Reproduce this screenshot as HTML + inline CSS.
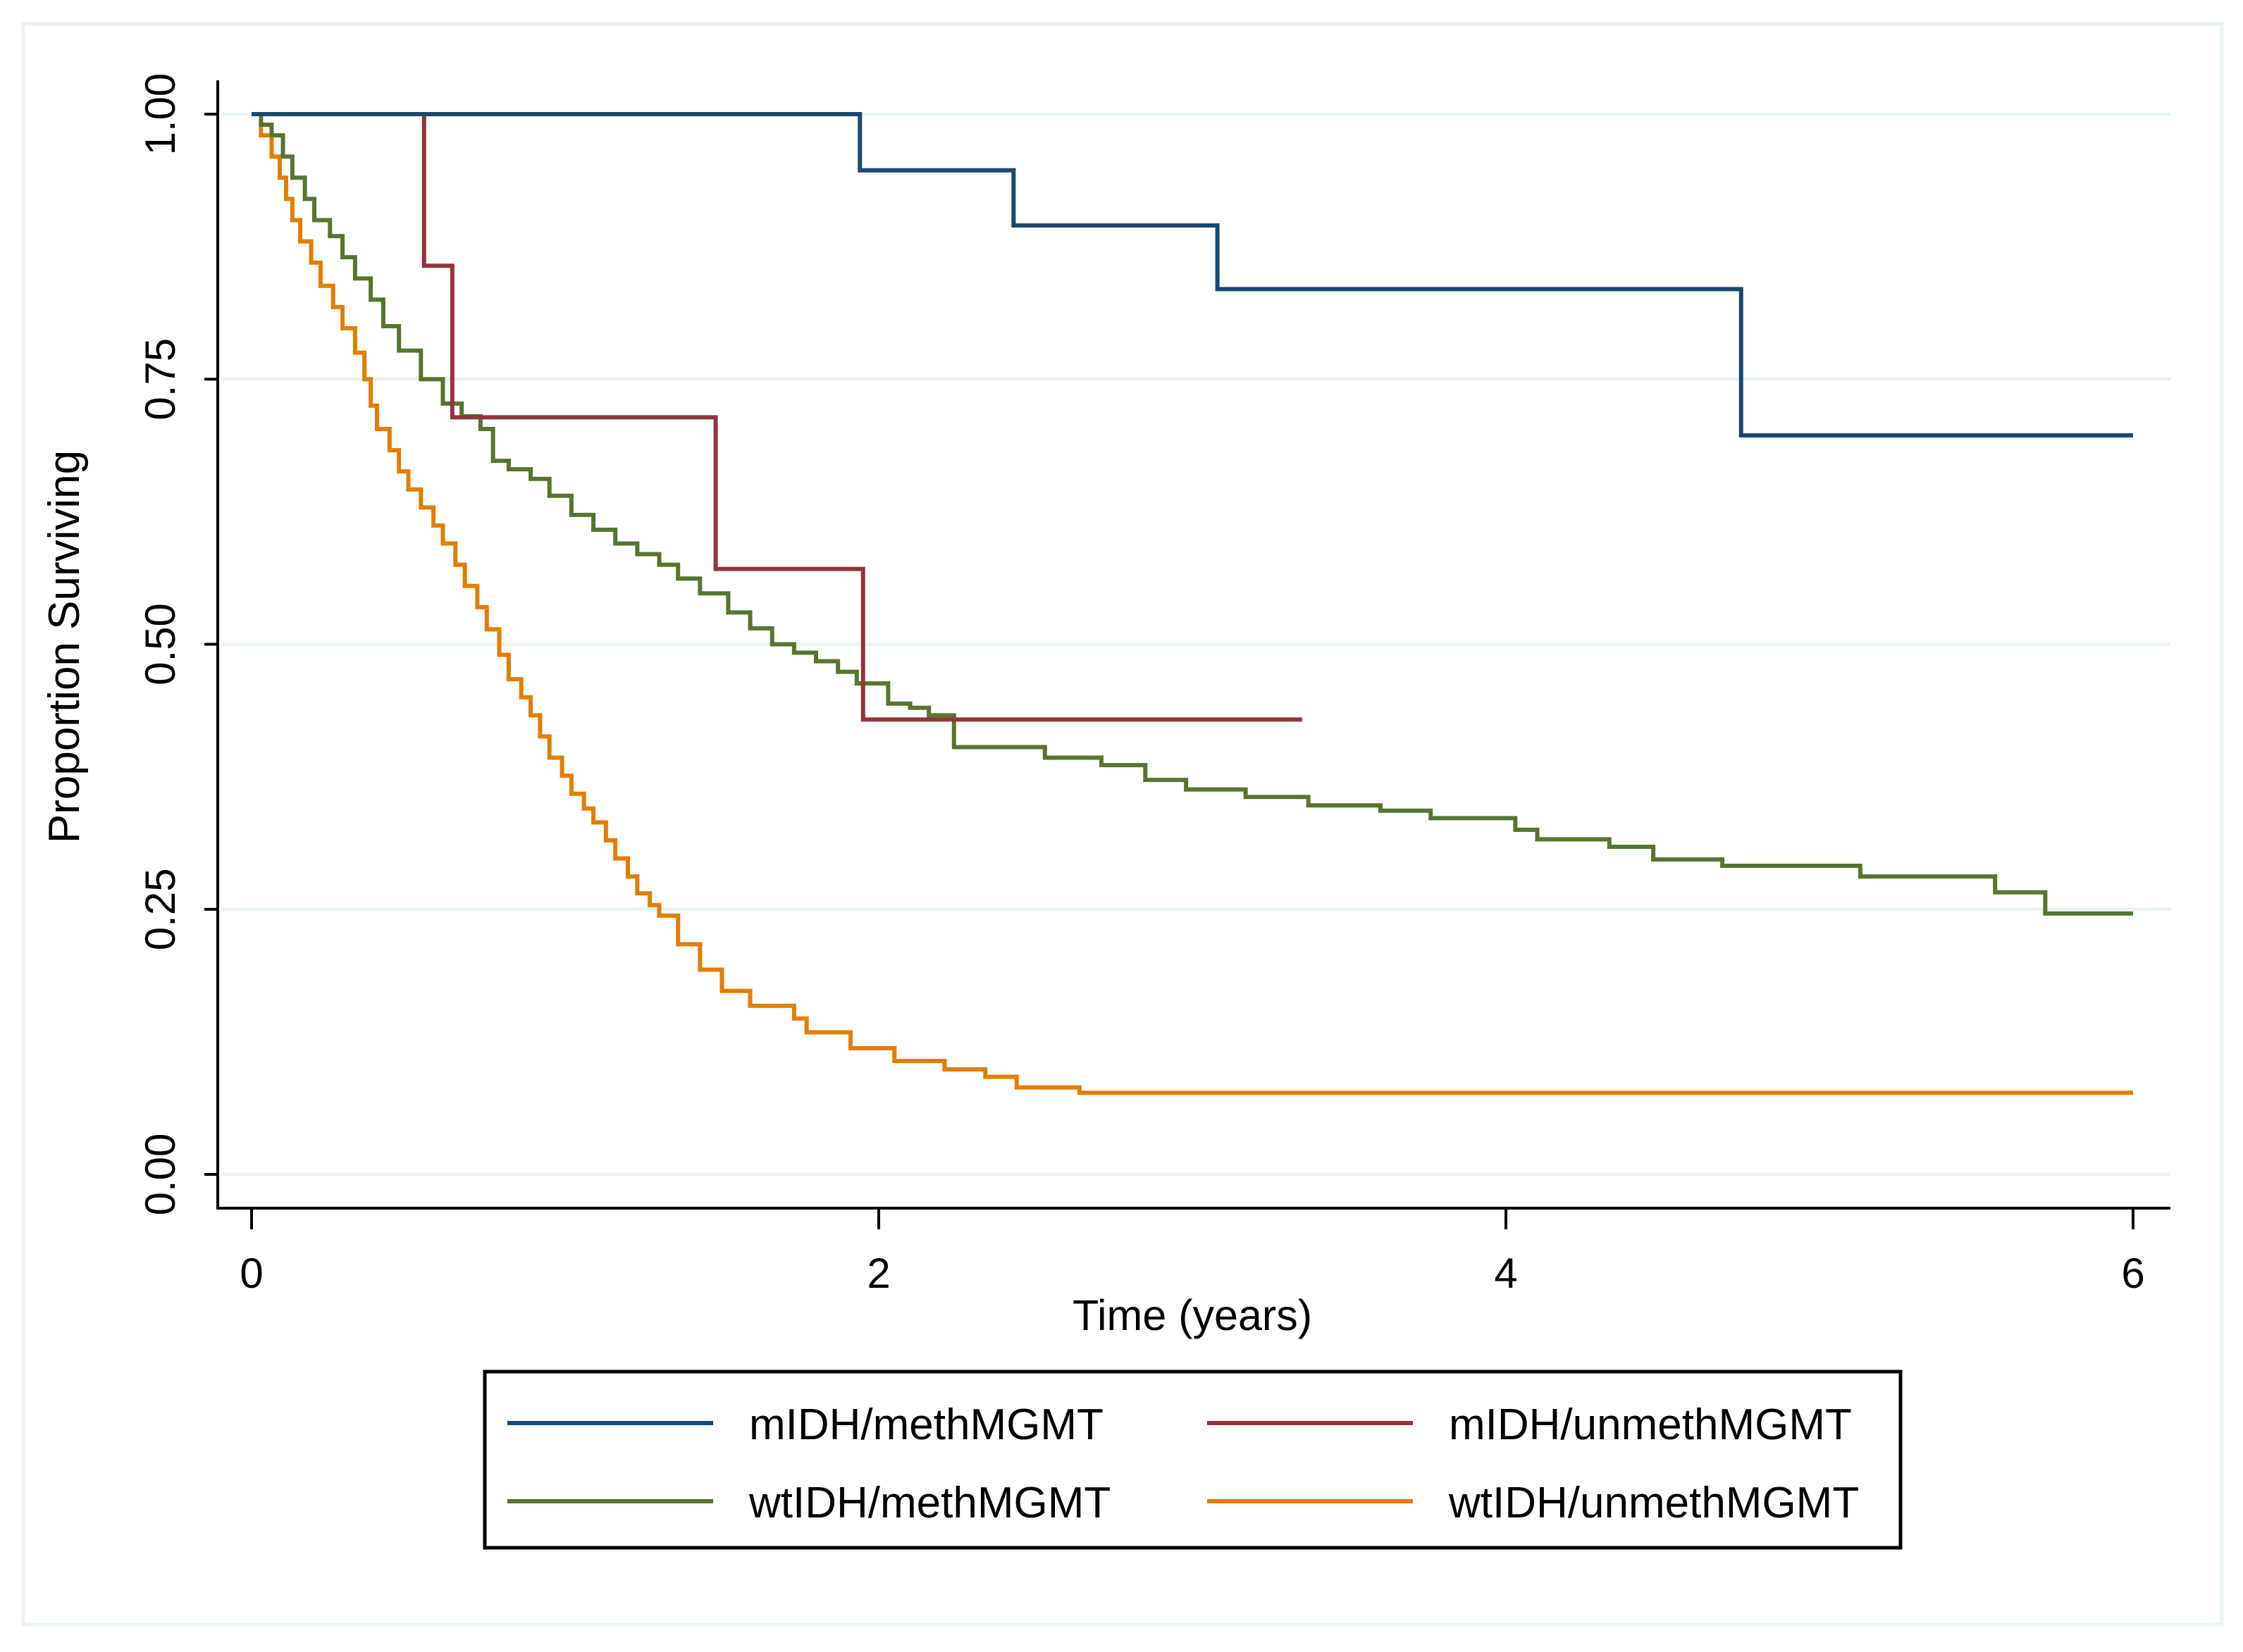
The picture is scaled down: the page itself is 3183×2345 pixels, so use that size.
<!DOCTYPE html>
<html><head><meta charset="utf-8"><style>
html,body{margin:0;padding:0;background:#fff;}
svg{display:block;font-family:"Liberation Sans",Arial,sans-serif;}
</style></head><body>
<svg id="chart" width="3183" height="2345" viewBox="0 0 3183 2345" xmlns="http://www.w3.org/2000/svg">
<rect x="0" y="0" width="3183" height="2345" fill="#fff"/>
<rect x="33" y="34" width="3120" height="2272" fill="none" stroke="#eaf2f3" stroke-width="5"/>
<g id="grid"></g>
<g id="series"></g>
<g id="axes"></g>
<text x="0" y="0" transform="translate(112,918) rotate(-90)" text-anchor="middle" font-size="62" fill="#000">Proportion Surviving</text>
<text x="1692" y="1888" text-anchor="middle" font-size="61" fill="#000">Time (years)</text>
<g>
<rect x="688" y="1947" width="2009" height="250" fill="#fff" stroke="#000" stroke-width="5"/>
<line x1="720" y1="2020" x2="1012" y2="2020" stroke="#1a476f" stroke-width="6"/>
<text x="1063" y="2043" font-size="62">mIDH/methMGMT</text>
<line x1="1713" y1="2020" x2="2005" y2="2020" stroke="#90353b" stroke-width="6"/>
<text x="2056" y="2043" font-size="62">mIDH/unmethMGMT</text>
<line x1="720" y1="2131" x2="1012" y2="2131" stroke="#55752f" stroke-width="6"/>
<text x="1063" y="2154" font-size="62">wtIDH/methMGMT</text>
<line x1="1713" y1="2131" x2="2005" y2="2131" stroke="#e37e00" stroke-width="6"/>
<text x="2056" y="2154" font-size="62">wtIDH/unmethMGMT</text>
</g>
</svg>
<script>
const xTicks = [0, 2, 4, 6];
const yTicks = [0, 0.25, 0.5, 0.75, 1];
const yTickLabels = ["0.00", "0.25", "0.50", "0.75", "1.00"];
const blueT = [0, 1.94, 2.43, 3.08, 4.75, 6];
const blueS = [1, 0.947, 0.895, 0.835, 0.697, 0.697];
const redT = [0, 0.55, 0.64, 1.48, 1.95, 3.35];
const redS = [1, 0.857, 0.714, 0.571, 0.429, 0.429];
const greenT = [0,0.03,0.064,0.1,0.13,0.17,0.2,0.25,0.29,0.33,0.38,0.42,0.47,0.54,0.61,0.67,0.73,0.77,0.82,0.89,0.95,1.02,1.09,1.16,1.23,1.3,1.36,1.43,1.52,1.59,1.66,1.73,1.8,1.87,1.93,2.03,2.1,2.16,2.24,2.44,2.53,2.71,2.85,2.98,3.17,3.37,3.6,3.76,4.03,4.1,4.33,4.47,4.69,5.13,5.56,5.72,6];
const greenS = [1,0.99,0.98,0.96,0.94,0.92,0.9,0.885,0.865,0.845,0.825,0.8,0.777,0.75,0.727,0.715,0.703,0.673,0.665,0.656,0.64,0.622,0.608,0.595,0.585,0.575,0.562,0.548,0.53,0.515,0.5,0.492,0.484,0.474,0.463,0.444,0.44,0.433,0.403,0.403,0.393,0.386,0.372,0.363,0.356,0.348,0.343,0.336,0.325,0.316,0.309,0.297,0.291,0.281,0.266,0.246,0.246];
const orangeT = [0,0.03,0.064,0.09,0.11,0.13,0.155,0.19,0.22,0.26,0.29,0.33,0.36,0.38,0.4,0.44,0.47,0.5,0.54,0.58,0.61,0.65,0.68,0.72,0.75,0.79,0.82,0.86,0.89,0.92,0.95,0.99,1.02,1.06,1.09,1.13,1.16,1.2,1.23,1.27,1.3,1.36,1.43,1.5,1.59,1.73,1.77,1.91,2.05,2.21,2.34,2.44,2.64,6];
const orangeS = [1,0.98,0.96,0.94,0.92,0.9,0.88,0.86,0.838,0.818,0.798,0.775,0.75,0.725,0.703,0.683,0.663,0.646,0.629,0.612,0.595,0.575,0.555,0.535,0.514,0.49,0.467,0.45,0.433,0.413,0.393,0.376,0.359,0.345,0.332,0.315,0.298,0.281,0.265,0.254,0.244,0.217,0.193,0.173,0.159,0.147,0.134,0.119,0.107,0.099,0.092,0.082,0.077,0.077];

const NS = "http://www.w3.org/2000/svg";
const X0 = 357, X6 = 3027, Y1 = 162, Y0 = 1667;
function xs(t){ return X0 + (X6 - X0) * t / 6; }
function ys(s){ return Y0 + (Y1 - Y0) * s; }
function mk(tag, attrs, parent){ const e = document.createElementNS(NS, tag); for (const k in attrs) e.setAttribute(k, attrs[k]); parent.appendChild(e); return e; }

const grid = document.getElementById('grid');
const axes = document.getElementById('axes');
yTicks.forEach((v, i) => {
  const g = mk('line', {x1: 313, x2: 3080, y1: ys(v), y2: ys(v), stroke: '#eaf2f3', 'stroke-width': 5}, grid);
  
  
  const t = mk('line', {x1: 290, x2: 311, y1: ys(v), y2: ys(v), stroke: '#000', 'stroke-width': 4}, axes);
  
  
  const lb = mk('text', {transform: `translate(248,${ys(v)}) rotate(-90)`, 'text-anchor': 'middle', 'font-size': 60, fill: '#000'}, axes);
  lb.textContent = yTickLabels[i];
  
  
});
const ya = mk('line', {x1: 309, x2: 309, y1: 114, y2: 1717, stroke: '#000', 'stroke-width': 4}, axes);


const xa = mk('line', {x1: 307, x2: 3080, y1: 1715, y2: 1715, stroke: '#000', 'stroke-width': 4}, axes);


xTicks.forEach(v => {
  const t = mk('line', {x1: xs(v), x2: xs(v), y1: 1715, y2: 1745, stroke: '#000', 'stroke-width': 4}, axes);
  
  
  const lb = mk('text', {x: xs(v), y: 1828, 'text-anchor': 'middle', 'font-size': 60, fill: '#000'}, axes);
  lb.textContent = String(v);
  
  
});

const series = document.getElementById('series');
function stepPath(T, S){
  let d = `M${xs(T[0])},${ys(S[0])}`;
  for (let i = 1; i < T.length; i++){ d += ` H${xs(T[i])} V${ys(S[i])}`; }
  return d;
}
[[orangeT, orangeS, '#e37e00', 'curve-wtIDH-unmeth'],
 [greenT, greenS, '#55752f', 'curve-wtIDH-meth'],
 [redT, redS, '#90353b', 'curve-mIDH-unmeth'],
 [blueT, blueS, '#1a476f', 'curve-mIDH-meth']].forEach(([T, S, c, n]) => {
  const p = mk('path', {d: stepPath(T, S), fill: 'none', stroke: c, 'stroke-width': 6, 'stroke-linejoin': 'miter'}, series);
  
  
});
</script>
</body></html>
